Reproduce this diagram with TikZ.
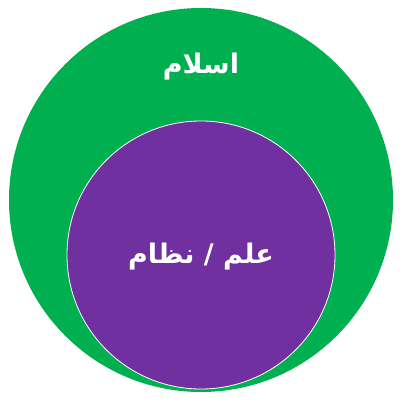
\documentclass[tikz,border=0pt]{standalone}
\usepackage{fontspec}
\newfontfamily\arabicfont[Script=Arabic]{DejaVu Sans}
\TeXXeTstate=1
\definecolor{islamgreen}{HTML}{00B050}
\definecolor{ilmpurple}{HTML}{7030A0}
\tikzset{
  label text/.style={text=white,font=\arabicfont\bfseries\fontsize{27}{32}\selectfont}
}

\begin{document}
\begin{tikzpicture}[x=1pt,y=1pt]
            \useasboundingbox (0,0) rectangle (406,401);
            \fill[white] (0,0) rectangle (406,401);
            \fill[islamgreen] (201,201) circle (192);
            \filldraw[ilmpurple,draw=white,line width=0.8pt] (201,146) circle (134);
            \node[label text] (islam) at (201,334) {\beginR اسلام\endR};
            \node[label text] (ilm) at (201,144) {\beginR علم / نظام\endR};
        \end{tikzpicture}
\end{document}
